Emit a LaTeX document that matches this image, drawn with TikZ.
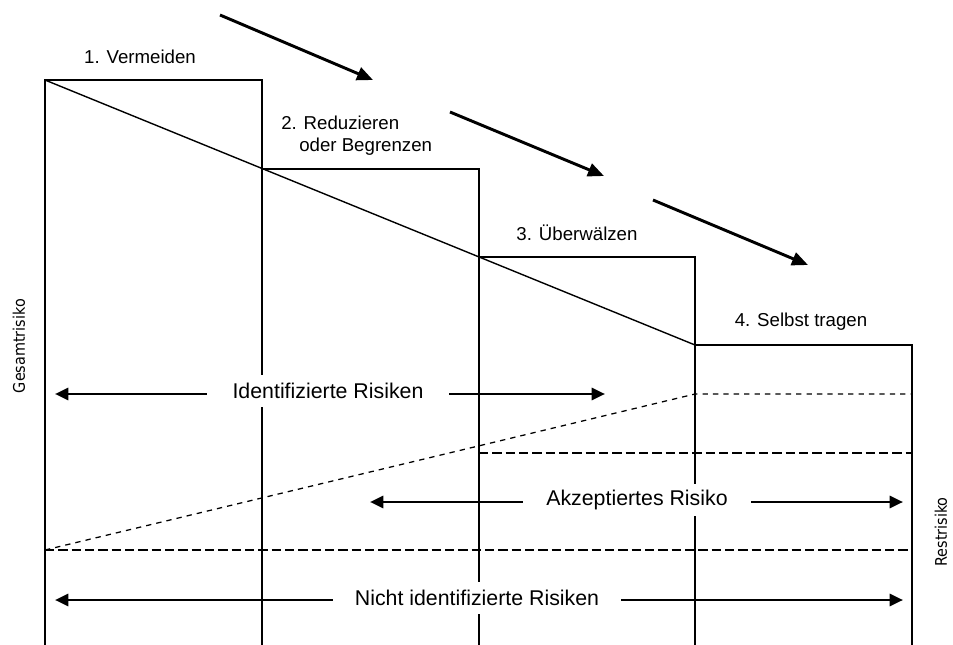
\documentclass[tikz,border=0pt]{standalone}
\usepackage{fontspec}
\setmainfont{Liberation Sans}
\newfontfamily\sidefont[FakeStretch=0.9]{DejaVu Sans}
\usetikzlibrary{arrows.meta}
\begin{document}
\begin{tikzpicture}[x=0.75pt,y=-0.75pt,
  boxline/.style={line width=0.9pt},
  diagline/.style={line width=1.05pt},
  dotline/.style={line width=0.95pt, dash pattern=on 4pt off 3.8pt},
  dashline/.style={line width=2.1pt, dash pattern=on 7pt off 3pt},
  flowarrow/.style={line width=2.2pt, -{Triangle[length=12pt,width=10pt]}},
  spanarrow/.style={line width=2.1pt, {Triangle[length=10pt,width=9pt]}-{Triangle[length=10pt,width=9pt]}},
  steplabel/.style={font=\fontsize{14}{16}\selectfont, inner sep=0pt},
  spanlabel/.style={font=\fontsize{16}{18}\selectfont, fill=white, inner sep=0pt, minimum height=24pt},
  sidelabel/.style={font=\sidefont\fontsize{12}{14}\selectfont, rotate=90, inner sep=0pt}
]
\useasboundingbox (0,0) rectangle (953,645);
% corner coordinates
\coordinate (a0) at (45,80);
\coordinate (a1) at (262,80);
\coordinate (b0) at (262,169);
\coordinate (b1) at (479,169);
\coordinate (c0) at (479,257);
\coordinate (c1) at (695,257);
\coordinate (d0) at (695,345);
\coordinate (d1) at (912,345);
\coordinate (a0b) at (45,645);
\coordinate (b0b) at (262,645);
\coordinate (c0b) at (479,645);
\coordinate (d0b) at (695,645);
\coordinate (d1b) at (912,645);
% steps
\draw[boxline] (a0b) -- (a0) -- (a1) -- (b0b);
\draw[boxline] (b0) -- (b1) -- (c0b);
\draw[boxline] (c0) -- (c1) -- (d0b);
\draw[boxline] (d0) -- (d1) -- (d1b);
% diagonal
\draw[diagline] (a0) -- (d0);
% residual risk lines
\coordinate (r0) at (45,550);
\coordinate (r1) at (912,550);
\coordinate (q0) at (695,394);
\coordinate (q1) at (912,394);
\coordinate (s0) at (479,453);
\coordinate (s1) at (912,453);
\draw[dotline] (r0) -- (q0) -- (q1);
\draw[dashline] (r0) -- (r1);
\draw[dashline] (s0) -- (s1);
% flow arrows
\coordinate (f1s) at (220,15);
\coordinate (f1e) at (373,80);
\coordinate (f2s) at (450,112);
\coordinate (f2e) at (604,176);
\coordinate (f3s) at (653,200);
\coordinate (f3e) at (808,265);
\draw[flowarrow] (f1s) -- (f1e);
\draw[flowarrow] (f2s) -- (f2e);
\draw[flowarrow] (f3s) -- (f3e);
% step labels
\node[steplabel] (l1) at (140,57) {1. Vermeiden};
\node[steplabel, anchor=west] (l2a) at (281,123) {2. Reduzieren};
\node[steplabel, anchor=west] (l2b) at (299,147) {oder Begrenzen};
\node[steplabel] (l3) at (577,233) {3. Überwälzen};
\node[steplabel] (l4) at (801,322) {4. Selbst tragen};
% span arrows
\coordinate (i0) at (55,394);
\coordinate (i1) at (605,394);
\coordinate (k0) at (370,502);
\coordinate (k1) at (903,502);
\coordinate (n0) at (55,600);
\coordinate (n1) at (903,600);
\draw[spanarrow] (i0) -- (i1);
\draw[spanarrow] (k0) -- (k1);
\draw[spanarrow] (n0) -- (n1);
\node[spanlabel, minimum width=182pt] (li) at (328,391) {Identifizierte Risiken};
\node[spanlabel, minimum width=171pt] (lk) at (637,500) {Akzeptiertes Risiko};
\node[spanlabel, minimum width=216pt] (ln) at (477,598) {Nicht identifizierte Risiken};
% side labels
\node[sidelabel] (lg) at (19,346) {Gesamtrisiko};
\node[sidelabel] (lr) at (941,532) {Restrisiko};
\end{tikzpicture}
\end{document}
